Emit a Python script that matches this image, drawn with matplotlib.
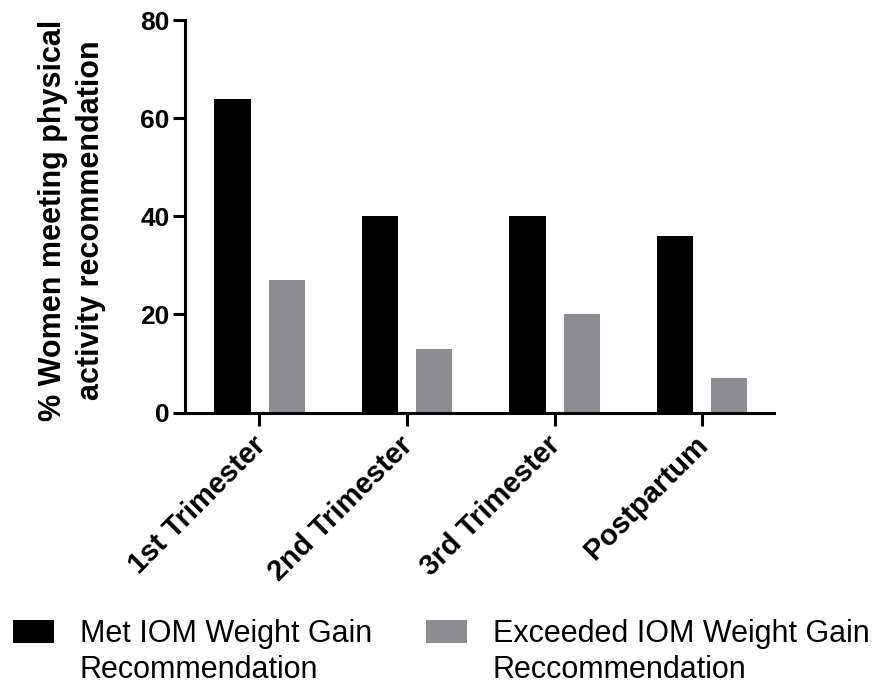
import numpy as np
import matplotlib
matplotlib.use('Agg')
import matplotlib.pyplot as plt
from matplotlib.transforms import ScaledTranslation

# data
stages = ['1st Trimester', '2nd Trimester', '3rd Trimester', 'Postpartum']
met_iom = [64, 40, 40, 36]
exceeded_iom = [27, 13, 20, 7]
legend_line1 = ['Met IOM Weight Gain', 'Exceeded IOM Weight Gain']
legend_line2 = ['Recommendation', 'Reccommendation']

plt.rcParams['font.family'] = ['Liberation Sans', 'DejaVu Sans']

W, H = 893, 689
fig = plt.figure(figsize=(W / 100, H / 100), dpi=100)
ax = fig.add_axes([185 / W, 1 - 412.5 / H, (774 - 185) / W, (412.5 - 20) / H])

x = np.arange(len(stages))
bw = 0.245
b1 = ax.bar(x - 0.183, met_iom, bw, color='#000000', label=legend_line1[0])
b2 = ax.bar(x + 0.185, exceeded_iom, bw, color='#8e8d92', label=legend_line1[1])

ax.set_xlim(-0.505, 3.488)
ax.set_ylim(0, 80)
ax.set_yticks([0, 20, 40, 60, 80])
ax.set_xticks(x)

for s in ['top', 'right']:
    ax.spines[s].set_visible(False)
for s in ['left', 'bottom']:
    ax.spines[s].set_linewidth(2.2)
ax.tick_params(axis='both', width=2.2, length=9, direction='out')
ax.tick_params(axis='y', pad=2)
ax.tick_params(axis='x', pad=3)

ax.set_xticklabels(stages, rotation=45, ha='right', va='top', rotation_mode='anchor',
                   fontsize=21, fontweight='bold')
# nudge the rotated labels so their ends sit just under the ticks
# (after tick_params, which resets the label transforms)
shift = ScaledTranslation(-8 / 100, -2 / 100, fig.dpi_scale_trans)
for lab in ax.get_xticklabels():
    lab.set_transform(lab.get_transform() + shift)
for lab in ax.get_yticklabels():
    lab.set_fontsize(19)
    lab.set_fontweight('bold')

ax.set_ylabel('% Women meeting physical\nactivity recommendation', fontsize=22,
              fontweight='bold', linespacing=1.36)
ax.yaxis.set_label_coords(-0.134, 0.49)

leg = fig.legend(handles=[b1, b2], labels=legend_line1, loc='upper left',
                 bbox_to_anchor=(13 / W, 1 - 619 / H), frameon=False, ncol=2,
                 fontsize=22, handlelength=1.34, handleheight=0.75,
                 handletextpad=0.85, columnspacing=1.76, borderpad=0,
                 borderaxespad=0)

fig.canvas.draw()
for t, txt in zip(leg.get_texts(), legend_line2):
    bb = t.get_window_extent()
    fig.text(bb.x0 / W, (bb.y0 - 36) / H, txt, fontsize=22, ha='left', va='bottom')

fig.savefig('out.png', dpi=100)
